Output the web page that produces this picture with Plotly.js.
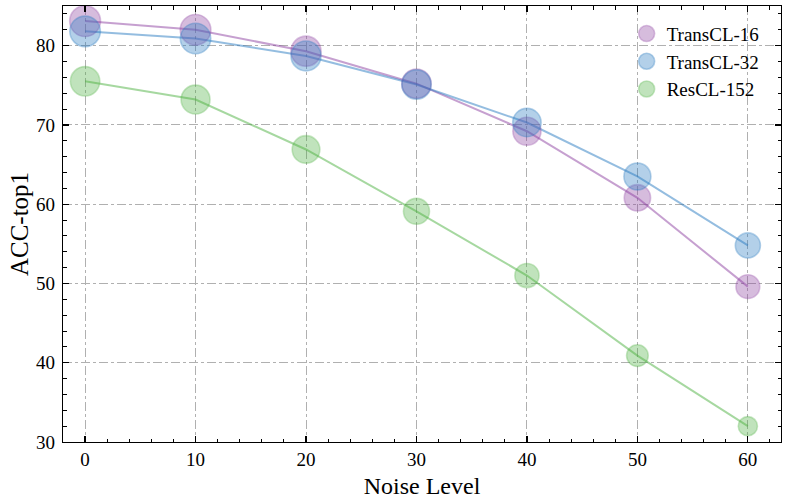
<!DOCTYPE html>
<html>
<head>
<meta charset="utf-8">
<script src="https://cdn.plot.ly/plotly-3.0.1.min.js"></script>
<style>html,body{margin:0;padding:0;background:#fff;}#chart{width:789px;height:503px;}</style>
</head>
<body>
<div id="chart"></div>
<script>
const noiseLevels = [0, 10, 20, 30, 40, 50, 60];
const transCL16 = [83.1, 82.0, 79.3, 75.2, 69.2, 60.8, 49.6];
const transCL32 = [81.8, 80.9, 78.7, 75.1, 70.3, 63.5, 54.8];
const resCL152 = [75.5, 73.2, 66.9, 59.1, 51.0, 40.9, 32.0];
const seriesNames = ['TransCL-16', 'TransCL-32', 'ResCL-152'];
const xTickVals = [0, 10, 20, 30, 40, 50, 60];
const yTickVals = [30, 40, 50, 60, 70, 80];

const fills = ['rgba(141,65,161,0.5)', 'rgba(41,123,193,0.5)', 'rgba(77,177,65,0.5)'];
const edges = ['rgba(141,65,161,0.45)', 'rgba(41,123,193,0.5)', 'rgba(77,177,65,0.45)'];
const lineCols = ['rgba(141,65,161,0.5)', 'rgba(41,123,193,0.5)', 'rgba(77,177,65,0.5)'];
const allSeries = [transCL16, transCL32, resCL152];

const traces = [];
allSeries.forEach((ys, i) => {
  traces.push({
    x: noiseLevels, y: ys, type: 'scatter', mode: 'lines',
    line: {color: lineCols[i], width: 2}, showlegend: false, hoverinfo: 'skip'
  });
});
allSeries.forEach((ys, i) => {
  traces.push({
    x: noiseLevels, y: ys, type: 'scatter', mode: 'markers', name: seriesNames[i],
    marker: {size: ys, sizemode: 'area', sizeref: 0.175, color: fills[i],
             line: {color: edges[i], width: 1.6}}
  });
});

const font = {family: '"Liberation Serif", "Times New Roman", serif', color: '#000'};
const axisCommon = {
  showline: true, linecolor: '#000', linewidth: 1.3, mirror: 'allticks',
  ticks: 'inside', ticklen: 6, tickwidth: 1.2, tickcolor: '#000',
  showgrid: true, gridcolor: '#b0b0b0', gridwidth: 1, griddash: 'dashdot',
  zeroline: false, tickfont: Object.assign({}, font, {size: 19})
};

const layout = {
  width: 789, height: 503,
  margin: {l: 63, r: 8, t: 6, b: 61},
  paper_bgcolor: '#fff', plot_bgcolor: '#fff',
  font: font,
  xaxis: Object.assign({}, axisCommon, {
    range: [-2, 63], tickvals: xTickVals,
    minor: {dtick: 2, tick0: 0, ticks: 'inside', ticklen: 3.5, tickwidth: 1, tickcolor: '#000', showgrid: false},
    title: {text: 'Noise Level', font: Object.assign({}, font, {size: 24}), standoff: 8}
  }),
  yaxis: Object.assign({}, axisCommon, {
    range: [30, 85], tickvals: yTickVals, ticklabelstandoff: 3,
    minor: {dtick: 2, tick0: 30, ticks: 'inside', ticklen: 3.5, tickwidth: 1, tickcolor: '#000', showgrid: false},
    title: {text: 'ACC-top1', font: Object.assign({}, font, {size: 25}), standoff: 0}
  }),
  legend: {
    x: 0.785, y: 0.98, xanchor: 'left', yanchor: 'top',
    bgcolor: 'rgba(0,0,0,0)', borderwidth: 0,
    font: Object.assign({}, font, {size: 19}),
    itemsizing: 'trace', tracegroupgap: 5
  },
  showlegend: true
};

Plotly.newPlot('chart', traces, layout, {displayModeBar: false, staticPlot: true});
</script>
</body>
</html>
